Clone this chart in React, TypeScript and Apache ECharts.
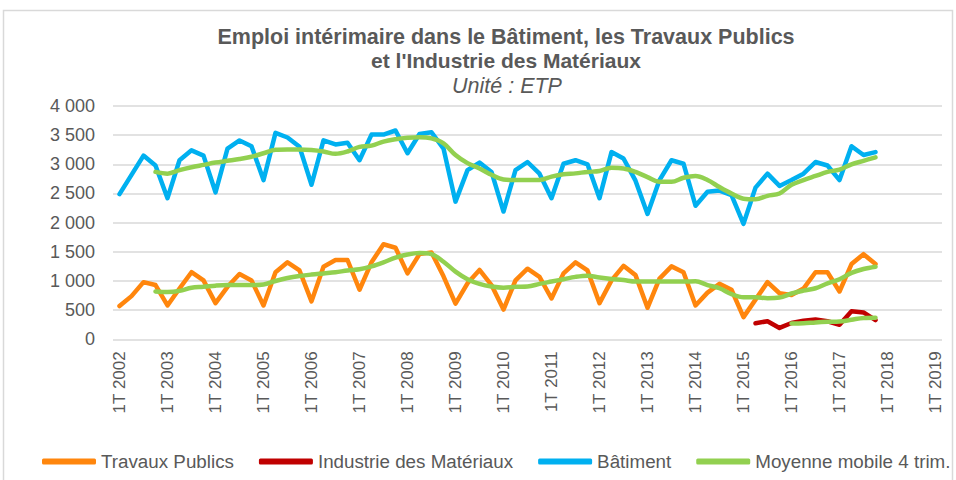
import React, { useEffect, useRef } from "react";
import * as echarts from "echarts";

// Quarter labels 1T 2002 ... 1T 2019
const years = [2002, 2003, 2004, 2005, 2006, 2007, 2008, 2009, 2010, 2011, 2012, 2013, 2014, 2015, 2016, 2017, 2018, 2019];
const quarters = ["1T", "2T", "3T", "4T"];
const categories: string[] = [];
years.forEach((y) => {
  quarters.forEach((q) => {
    if (y < 2019 || q === "1T") categories.push(`${q} ${y}`);
  });
});

const yTickLabels = ["0", "500", "1 000", "1 500", "2 000", "2 500", "3 000", "3 500", "4 000"];

// Travaux Publics (1T 2002 - 4T 2017)
const travauxPublics = [
  570, 740, 980, 930, 580, 870, 1150, 1010, 620, 900, 1120, 1010, 580, 1150, 1320, 1180,
  650, 1245, 1360, 1360, 850, 1320, 1630, 1570, 1130, 1460, 1490, 1080, 610, 960, 1190, 930,
  510, 1010, 1210, 1070, 700, 1130, 1320, 1180, 620, 1010, 1260, 1100, 540, 1040, 1250, 1150,
  580, 800, 950, 850, 380, 680, 980, 790, 760, 870, 1150, 1150, 820, 1290, 1460, 1290,
];

// Bâtiment (1T 2002 - 4T 2017)
const batiment = [
  2490, 2820, 3150, 2980, 2420, 3070, 3240, 3150, 2520, 3270, 3410, 3310, 2730, 3540, 3460, 3300,
  2650, 3410, 3340, 3370, 3070, 3510, 3510, 3580, 3190, 3520, 3550, 3270, 2360, 2900, 3030, 2870,
  2190, 2900, 3040, 2840, 2420, 3010, 3070, 3000, 2420, 3210, 3100, 2720, 2150, 2730, 3070, 3010,
  2290, 2530, 2550, 2470, 1980, 2600, 2840, 2630, 2730, 2840, 3040, 2980, 2730, 3310, 3160, 3210,
];

// Industrie des Matériaux (from 2T 2015)
const industrieStart = 53;
const industrie = [275, 310, 195, 280, 320, 340, 310, 250, 480, 460, 330];

// Moyennes mobiles 4 trimestres
const maStartTP = 3;
const maTravauxPublics = [
  820, 810, 830, 885, 900, 920, 930, 930, 930, 940, 1000, 1050, 1085,
  1110, 1130, 1150, 1180, 1200, 1250, 1320, 1400, 1455, 1480, 1460, 1330, 1160, 1030, 950, 905,
  885, 900, 905, 950, 990, 1030, 1070, 1090, 1060, 1035, 1015, 990, 990, 990, 990, 990,
  995, 930, 875, 775, 720, 720, 705, 715, 785, 835, 875, 960, 1030, 1140, 1205, 1245,
];
const maStartBat = 3;
const maBatiment = [
  2870, 2840, 2900, 2950, 2990, 3030, 3060, 3090, 3130, 3190, 3250, 3255, 3255,
  3245, 3220, 3180, 3220, 3300, 3320, 3390, 3430, 3455, 3465, 3445, 3360, 3160, 3020, 2930, 2820,
  2740, 2730, 2730, 2730, 2790, 2830, 2845, 2870, 2885, 2940, 2930, 2870, 2780, 2700, 2700, 2770,
  2800, 2730, 2610, 2500, 2410, 2400, 2460, 2500, 2650, 2730, 2800, 2870, 2910, 3000, 3060, 3120,
];
const maStartInd = 56;
const maIndustrie = [272, 275, 290, 300, 305, 335, 365, 370];

const pad = (start: number, values: number[]) =>
  (new Array(start).fill(null) as (number | null)[]).concat(values);

const FONT = "'Liberation Sans', Arial, sans-serif";
const TEXT = "#595959";
const ORANGE = "#FF860D";
const RED = "#C00000";
const BLUE = "#00B0F0";
const GREEN = "#92D050";

export default function App() {
  const ref = useRef<HTMLDivElement>(null);
  useEffect(() => {
    if (!ref.current) return;
    const chart = echarts.init(ref.current, undefined, { renderer: "svg" });
    const lineSeries = (name: string, data: (number | null)[], color: string, smooth = false) => ({
      name,
      type: "line",
      xAxisIndex: 1,
      yAxisIndex: 1,
      data,
      symbol: "none",
      showSymbol: false,
      smooth: smooth ? 0.35 : false,
      connectNulls: false,
      itemStyle: { color },
      lineStyle: { color, width: 4.5, cap: "round", join: "round" },
    });
    chart.setOption({
      animation: false,
      backgroundColor: "#ffffff",
      textStyle: { fontFamily: FONT },
      graphic: [
        {
          type: "rect",
          shape: { x: 3.5, y: 10.5, width: 949, height: 480 },
          style: { fill: "none", stroke: "#D9D9D9", lineWidth: 1.5 },
          silent: true,
        },
        {
          type: "text",
          style: {
            text: "Emploi intérimaire dans le Bâtiment, les Travaux Publics",
            x: 506,
            y: 37,
            textAlign: "center",
            textVerticalAlign: "middle",
            font: `bold 21.5px ${FONT}`,
            fill: TEXT,
          },
        },
        {
          type: "text",
          style: {
            text: "et l'Industrie des Matériaux",
            x: 506,
            y: 60,
            textAlign: "center",
            textVerticalAlign: "middle",
            font: `bold 21px ${FONT}`,
            fill: TEXT,
          },
        },
        {
          type: "text",
          style: {
            text: "Unité : ETP",
            x: 507,
            y: 86,
            textAlign: "center",
            textVerticalAlign: "middle",
            font: `italic 21.5px ${FONT}`,
            fill: TEXT,
          },
        },
      ],
      legend: {
        data: ["Travaux Publics", "Industrie des Matériaux", "Bâtiment", "Moyenne mobile 4 trim."],
        left: 42,
        top: 452,
        icon: "roundRect",
        itemWidth: 54,
        itemHeight: 6,
        itemGap: 25,
        padding: 0,
        textStyle: { fontSize: 18.8, color: TEXT, fontFamily: FONT },
      },
      grid: [
        { left: 113, right: 14, top: 106, bottom: 140.7 },
        { left: 119.5, right: 20.5, top: 106, bottom: 140.7 },
      ],
      xAxis: [
        { gridIndex: 0, type: "value", min: 0, max: 1, show: false },
        {
          gridIndex: 1,
          type: "category",
          data: categories,
          boundaryGap: false,
          axisLine: { show: false },
          axisTick: { show: false },
          splitLine: { show: false },
          axisLabel: {
            interval: 3,
            rotate: 90,
            margin: 12,
            fontSize: 17,
            color: TEXT,
            fontFamily: FONT,
          },
        },
      ],
      yAxis: [
        {
          gridIndex: 0,
          type: "value",
          min: 0,
          max: 4000,
          interval: 500,
          axisLine: { show: false },
          axisTick: { show: false },
          splitLine: { lineStyle: { color: "#D9D9D9", width: 1.5 } },
          axisLabel: {
            margin: 18,
            fontSize: 18,
            color: TEXT,
            fontFamily: FONT,
            formatter: (v: number) => yTickLabels[Math.round(v / 500)] ?? String(v),
          },
        },
        { gridIndex: 1, type: "value", min: 0, max: 4000, interval: 500, show: false, splitLine: { show: false } },
      ],
      series: [
        lineSeries("Travaux Publics", travauxPublics, ORANGE),
        lineSeries("Industrie des Matériaux", pad(industrieStart, industrie), RED),
        lineSeries("Bâtiment", batiment, BLUE),
        lineSeries("Moyenne mobile 4 trim.", pad(maStartTP, maTravauxPublics), GREEN, true),
        lineSeries("Moyenne mobile 4 trim.", pad(maStartBat, maBatiment), GREEN, true),
        lineSeries("Moyenne mobile 4 trim.", pad(maStartInd, maIndustrie), GREEN, true),
      ],
    });
    return () => chart.dispose();
  }, []);
  return (
    <div
      ref={ref}
      style={{ position: "absolute", left: 0, top: 0, width: 956, height: 480 }}
    />
  );
}
